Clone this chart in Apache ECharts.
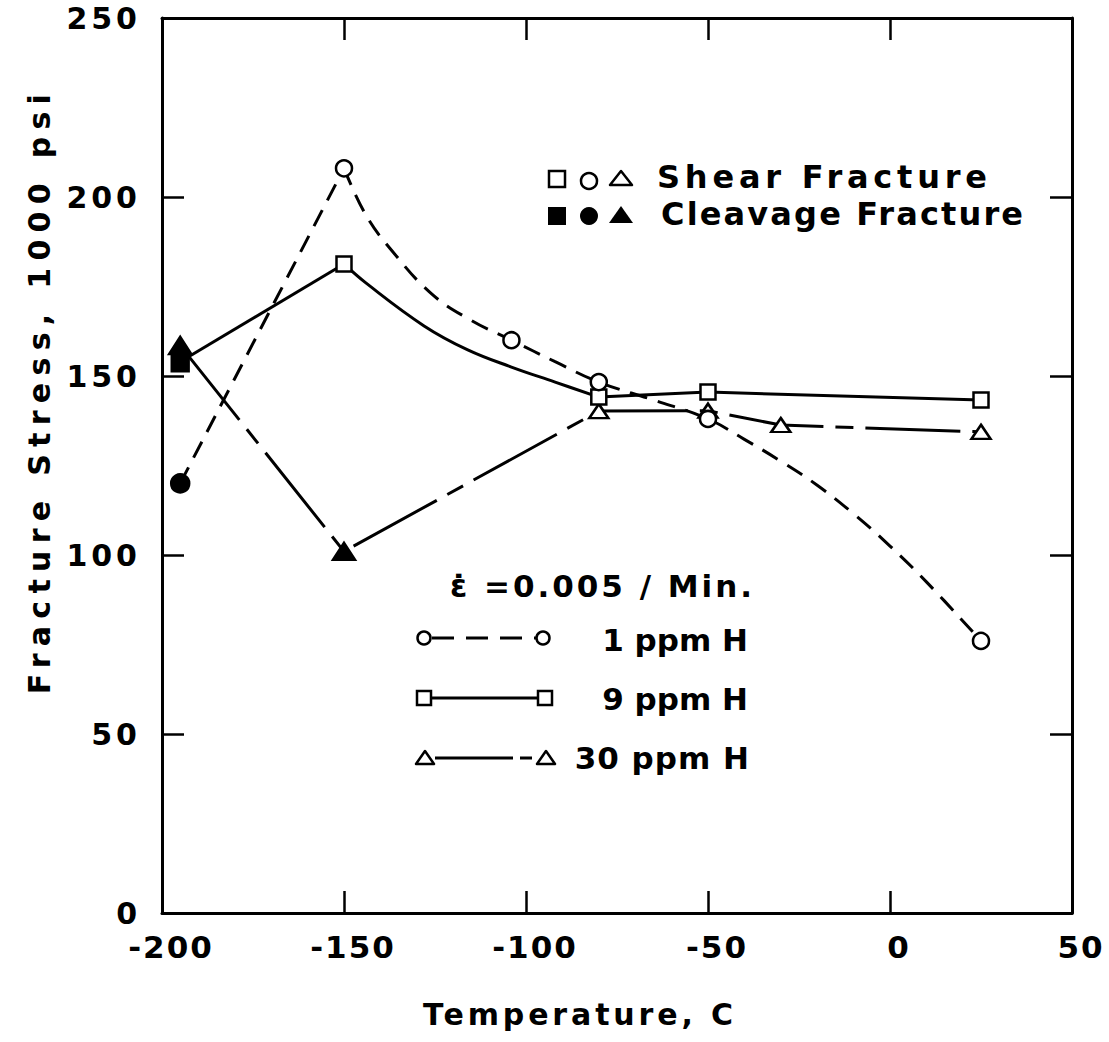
<!DOCTYPE html>
<html><head><meta charset="utf-8">
<script src="https://cdn.jsdelivr.net/npm/echarts@6/dist/echarts.min.js"></script>
<style>html,body{margin:0;padding:0;background:#fff}#c{width:1109px;height:1042px}</style>
</head><body><div id="c"></div>
<script>
// ---------- data ----------
const xTicks = [-200, -150, -100, -50, 0, 50];
const yTicks = [0, 50, 100, 150, 200, 250];

// measured points; cleave = 1 -> filled marker (cleavage fracture)
const temp1 = [-195, -150, -104, -80, -50, 25];
const stress1 = [120, 208, 160, 148.3, 138, 76];
const cleave1 = [1, 0, 0, 0, 0, 0];

const temp9 = [-195, -150, -80, -50, 25];
const stress9 = [154, 181.3, 144.1, 145.5, 143.3];
const cleave9 = [1, 0, 0, 0, 0];

const temp30 = [-195, -150, -80, -50, -30, 25];
const stress30 = [158.5, 101, 140.2, 140.3, 136.3, 134.4];
const cleave30 = [1, 1, 0, 0, 0, 0];

// points
const curve1T = [-150, -144, -137, -126, -115, -104, -92, -80, -65, -50, -40, -30, -20, -10, 0, 10, 25];
const curve1S = [208, 195, 185.2, 173, 165.5, 160, 154, 148.3, 143.3, 138, 132.3, 126.2, 119.5, 111.5, 102.5, 92.5, 76];
const curve9T = [-150, -144, -128, -116, -104, -92, -80];
const curve9S = [181.3, 176, 164, 157.3, 152.5, 148.3, 144.1];

const xTitle = 'Temperature, C';
const yTitle = 'Fracture Stress, 1000 psi';
const legendTexts = ['Shear Fracture', 'Cleavage Fracture'];
const rateText = 'ε̇ =0.005 / Min.';
const seriesNames = ['1 ppm H', '9 ppm H', '30 ppm H'];

// ---------- chart ----------
const FONT = '"DejaVu Sans", sans-serif';
const dom = document.getElementById('c');
const chart = echarts.init(dom, null, {renderer: 'svg', width: 1109, height: 1042});

const zip = (a, b) => a.map((v, i) => [v, b[i]]);
const dash1 = [18, 11];
const dash30 = [95, 12, 18, 12];

function markers(t, s, c, size, fsize) {
  return t.map((v, i) => ({
    value: [v, s[i]],
    symbolSize: c[i] ? fsize : size,
    itemStyle: {color: c[i] ? '#000' : '#fff'}
  }));
}

const axisCommon = {
  type: 'value',
  axisLine: {show: true, onZero: false, lineStyle: {color: '#000', width: 3}},
  axisTick: {show: true, inside: true, length: 22, lineStyle: {color: '#000', width: 2.5}},
  splitLine: {show: false}
};

const lineBase = {type: 'line', symbol: 'none', silent: true, z: 2};
const scatterBase = {type: 'scatter', silent: true, z: 5,
  itemStyle: {borderColor: '#000', borderWidth: 2.5, opacity: 1}};

const txt = (size, align) => ({fill: '#000', font: 'bold ' + size + 'px ' + FONT, textVerticalAlign: 'middle', textAlign: align || 'left'});

const option = {
  animation: false,
  backgroundColor: '#fff',
  grid: {left: 162, right: 37, top: 18, bottom: 129, outerBoundsMode: 'none'},
  xAxis: [
    Object.assign({}, axisCommon, {
      min: xTicks[0], max: xTicks[xTicks.length - 1], interval: 50, position: 'bottom',
      axisLabel: {fontSize: 31, fontWeight: 'bold', fontFamily: FONT, color: '#000', margin: 18, padding: [0, 0, 0, 18]},
      name: xTitle, nameLocation: 'middle', nameGap: 86,
      nameTextStyle: {fontSize: 30, fontWeight: 'bold', fontFamily: FONT, color: '#000', padding: [0, 74, 0, 0]}
    }),
    Object.assign({}, axisCommon, {
      min: xTicks[0], max: xTicks[xTicks.length - 1], interval: 50, position: 'top',
      axisLabel: {show: false}
    })
  ],
  yAxis: [
    Object.assign({}, axisCommon, {
      min: yTicks[0], max: yTicks[yTicks.length - 1], interval: 50, position: 'left',
      axisLabel: {fontSize: 30, fontWeight: 'bold', fontFamily: FONT, color: '#000', margin: 21},
      name: yTitle, nameLocation: 'middle', nameGap: 108, nameRotate: 90,
      nameTextStyle: {fontSize: 30, fontWeight: 'bold', fontFamily: FONT, color: '#000', padding: [0, 0, 0, 150]}
    }),
    Object.assign({}, axisCommon, {
      min: yTicks[0], max: yTicks[yTicks.length - 1], interval: 50, position: 'right',
      axisLabel: {show: false}
    })
  ],
  series: [
    Object.assign({}, lineBase, {name: seriesNames[0], data: zip(temp1.slice(0, 2), stress1.slice(0, 2)),
      lineStyle: {color: '#000', width: 3, type: dash1}}),
    Object.assign({}, lineBase, {data: zip(curve1T, curve1S), smooth: 0.4,
      lineStyle: {color: '#000', width: 3, type: dash1}}),
    Object.assign({}, lineBase, {name: seriesNames[1], data: zip(temp9.slice(0, 2), stress9.slice(0, 2)),
      lineStyle: {color: '#000', width: 3, type: 'solid'}}),
    Object.assign({}, lineBase, {data: zip(curve9T, curve9S), smooth: 0.4,
      lineStyle: {color: '#000', width: 3, type: 'solid'}}),
    Object.assign({}, lineBase, {data: zip(temp9.slice(2), stress9.slice(2)),
      lineStyle: {color: '#000', width: 3, type: 'solid'}}),
    Object.assign({}, lineBase, {name: seriesNames[2], data: zip(temp30, stress30),
      lineStyle: {color: '#000', width: 3, type: dash30}}),
    Object.assign({}, scatterBase, {symbol: 'triangle', data: markers(temp30, stress30, cleave30, [19, 14], [22, 17])}),
    Object.assign({}, scatterBase, {symbol: 'rect', data: markers(temp9, stress9, cleave9, 15, [17, 19])}),
    Object.assign({}, scatterBase, {symbol: 'circle', data: markers(temp1, stress1, cleave1, 16, 18)})
  ],
  graphic: [
    // upper legend (fracture mode)
    {type: 'rect', shape: {x: 549, y: 171, width: 16, height: 16}, style: {fill: '#fff', stroke: '#000', lineWidth: 2.5}},
    {type: 'circle', shape: {cx: 589, cy: 181, r: 8}, style: {fill: '#fff', stroke: '#000', lineWidth: 2.5}},
    {type: 'polygon', shape: {points: [[621, 171], [632, 185], [610, 185]]}, style: {fill: '#fff', stroke: '#000', lineWidth: 2.5, lineJoin: 'round'}},
    {type: 'text', x: 657, y: 177, style: Object.assign({text: legendTexts[0]}, txt(32))},
    {type: 'rect', shape: {x: 548, y: 207, width: 18, height: 18}, style: {fill: '#000'}},
    {type: 'circle', shape: {cx: 589, cy: 216, r: 9}, style: {fill: '#000'}},
    {type: 'polygon', shape: {points: [[621, 206], [633, 223], [609, 223]]}, style: {fill: '#000'}},
    {type: 'text', x: 661, y: 214, style: Object.assign({text: legendTexts[1]}, txt(32))},
    // lower legend (hydrogen content)
    {type: 'text', x: 450, y: 586, style: Object.assign({text: rateText}, txt(31))},
    {type: 'line', shape: {x1: 432, y1: 638, x2: 536, y2: 638}, style: {stroke: '#000', lineWidth: 3, lineDash: [22, 12]}},
    {type: 'circle', shape: {cx: 424, cy: 638, r: 6.5}, style: {fill: '#fff', stroke: '#000', lineWidth: 2.5}},
    {type: 'circle', shape: {cx: 543, cy: 638, r: 6.5}, style: {fill: '#fff', stroke: '#000', lineWidth: 2.5}},
    {type: 'text', x: 748, y: 640, style: Object.assign({text: seriesNames[0]}, txt(31, 'right'))},
    {type: 'line', shape: {x1: 431, y1: 698, x2: 538, y2: 698}, style: {stroke: '#000', lineWidth: 3}},
    {type: 'rect', shape: {x: 417, y: 691, width: 14, height: 14}, style: {fill: '#fff', stroke: '#000', lineWidth: 2.5}},
    {type: 'rect', shape: {x: 538, y: 691, width: 14, height: 14}, style: {fill: '#fff', stroke: '#000', lineWidth: 2.5}},
    {type: 'text', x: 748, y: 699, style: Object.assign({text: seriesNames[1]}, txt(31, 'right'))},
    {type: 'line', shape: {x1: 435, y1: 758, x2: 537, y2: 758}, style: {stroke: '#000', lineWidth: 3, lineDash: [78, 7, 12, 7]}},
    {type: 'polygon', shape: {points: [[425, 751], [434, 764], [416, 764]]}, style: {fill: '#fff', stroke: '#000', lineWidth: 2.5, lineJoin: 'round'}},
    {type: 'polygon', shape: {points: [[546, 751], [555, 764], [537, 764]]}, style: {fill: '#fff', stroke: '#000', lineWidth: 2.5, lineJoin: 'round'}},
    {type: 'text', x: 750, y: 758, style: Object.assign({text: seriesNames[2]}, txt(31, 'right'))}
  ]
};

chart.setOption(option);

// wide lettering of the original: adjust letter spacing of the SVG text
const TARGET = {};
TARGET[xTitle] = 310;
TARGET[yTitle] = 600;
TARGET[legendTexts[0]] = 330;
TARGET[legendTexts[1]] = 362;
TARGET[rateText] = 305;
const FIXED_LS = {};
FIXED_LS[seriesNames[0]] = 0;
FIXED_LS[seriesNames[1]] = 0;
FIXED_LS[seriesNames[2]] = 1;
const Y_LS = 4, X_LS = 2;

function adjust() {
  dom.querySelectorAll('svg text').forEach(el => {
    const s = el.textContent.trim();
    el.style.letterSpacing = '0px';
    if (TARGET[s]) {
      const n = Array.from(s).length;
      const w = el.getComputedTextLength();
      if (n > 1) el.style.letterSpacing = Math.max(0, (TARGET[s] - w) / (n - 1)).toFixed(2) + 'px';
    } else if (s in FIXED_LS) {
      el.style.letterSpacing = FIXED_LS[s] + 'px';
    } else if (/^-?\d+$/.test(s)) {
      const r = el.getBoundingClientRect();
      el.style.letterSpacing = (r.right < 162 ? Y_LS : X_LS) + 'px';
    }
  });
}
try { chart.getZr().flush(); } catch (e) {}
adjust();
chart.on('finished', adjust);
setTimeout(adjust, 50);
</script>
</body></html>
